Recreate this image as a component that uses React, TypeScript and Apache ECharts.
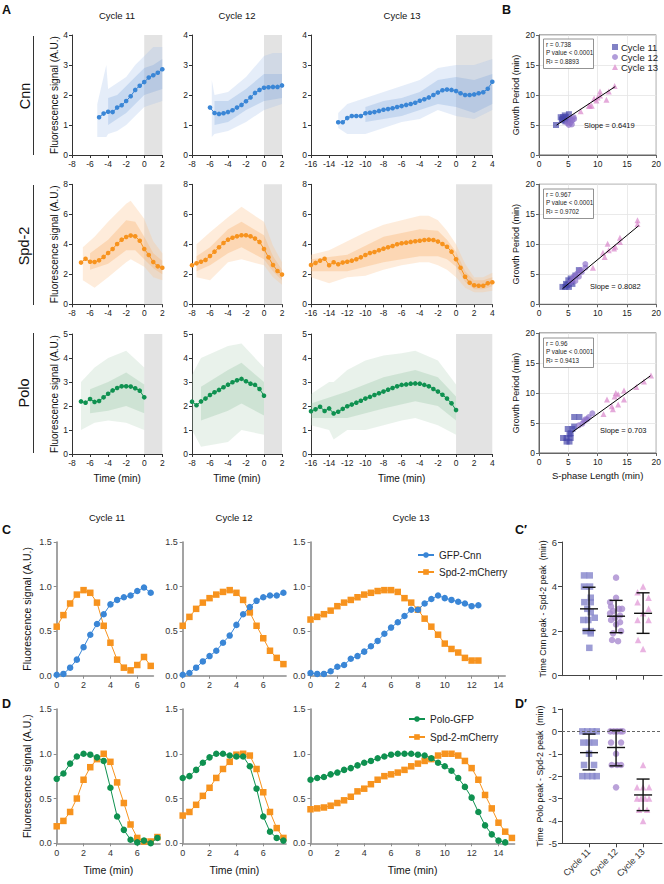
import React, { useEffect, useRef } from "react";
import * as echarts from "echarts";

const FONT = '"Liberation Sans", Arial, Helvetica, sans-serif';
const STEP = 0.5; // sampling interval (min)

// ---------- Panel A: mean traces (values every 0.5 min from start) ----------
const cnn11Start = -5;
const cnn11 = [1.26, 1.38, 1.44, 1.43, 1.58, 1.66, 1.8, 1.96, 2.17, 2.31, 2.43, 2.58, 2.66, 2.74, 2.86];
const cnn12Start = -6;
const cnn12 = [1.58, 1.4, 1.37, 1.39, 1.43, 1.49, 1.58, 1.67, 1.79, 1.92, 2.07, 2.17, 2.24, 2.26, 2.27, 2.27, 2.32];
const cnn13Start = -13;
const cnn13 = [1.09, 1.09, 1.23, 1.3, 1.3, 1.3, 1.39, 1.41, 1.43, 1.47, 1.51, 1.53, 1.56, 1.6, 1.63, 1.67, 1.7, 1.74, 1.81, 1.86, 1.92, 2.0, 2.08, 2.16, 2.18, 2.17, 2.13, 2.06, 2.0, 2.0, 2.02, 2.06, 2.09, 2.21, 2.44];
const spd11Start = -7;
const spd11 = [2.78, 3.04, 2.84, 2.82, 2.93, 3.16, 3.42, 3.69, 4.02, 4.31, 4.49, 4.58, 4.53, 4.24, 3.69, 3.29, 2.82, 2.53, 2.44];
const spd12Start = -8;
const spd12 = [2.6, 2.73, 2.84, 2.96, 3.22, 3.51, 3.8, 4.09, 4.31, 4.44, 4.53, 4.6, 4.6, 4.53, 4.38, 4.16, 3.69, 3.13, 2.62, 2.22, 1.98];
const spd13Start = -16;
const spd13 = [2.62, 2.76, 2.91, 3.04, 2.6, 2.8, 2.67, 2.78, 2.84, 2.91, 3.0, 3.13, 3.29, 3.42, 3.49, 3.6, 3.71, 3.8, 3.89, 4.0, 4.07, 4.11, 4.16, 4.2, 4.24, 4.29, 4.31, 4.29, 4.18, 4.02, 3.84, 3.51, 3.0, 2.44, 1.84, 1.44, 1.27, 1.24, 1.24, 1.4, 1.47];
const polo11Start = -7;
const polo11 = [2.19, 2.14, 2.29, 2.17, 2.21, 2.36, 2.51, 2.65, 2.75, 2.82, 2.82, 2.81, 2.74, 2.64, 2.36];
const polo12Start = -8;
const polo12 = [2.18, 2.03, 2.19, 2.31, 2.46, 2.57, 2.67, 2.78, 2.89, 2.99, 3.07, 3.13, 3.03, 2.93, 2.88, 2.71, 2.43];
const polo13Start = -16;
const polo13 = [1.78, 1.86, 1.97, 1.79, 1.9, 1.69, 1.76, 1.88, 1.99, 2.06, 2.14, 2.22, 2.31, 2.38, 2.46, 2.53, 2.6, 2.68, 2.75, 2.82, 2.88, 2.9, 2.93, 2.94, 2.93, 2.88, 2.82, 2.71, 2.6, 2.47, 2.31, 2.11, 1.83];

// ---------- Panel A: spread of individual traces [time, low, high] ----------
const cnn11Out = [[-5.2, 0.6, 1.7], [-4.2, 0.6, 3.0], [-4, 0.7, 2.2], [-3, 0.8, 2.4], [-2, 1.0, 2.6], [-1, 1.3, 3.0], [0, 1.6, 3.3], [1, 1.7, 3.6], [2, 1.8, 3.6]];
const cnn11In = [[-4, 1.0, 1.9], [-3, 1.2, 2.0], [-2, 1.4, 2.3], [-1, 1.7, 2.6], [0, 2.0, 2.9], [1, 2.1, 3.0], [2, 2.2, 3.2]];
const cnn12Out = [[-5.8, 0.6, 2.5], [-5.5, 0.7, 2.0], [-4, 0.8, 2.1], [-2, 1.1, 2.6], [0, 1.5, 3.3], [1, 1.6, 3.4], [2, 1.7, 3.4]];
const cnn12In = [[-5.5, 1.0, 1.8], [-4, 1.1, 1.8], [-2, 1.5, 2.2], [0, 1.8, 2.7], [2, 1.9, 2.7]];
const cnn13Out = [[-13, 0.9, 1.4], [-12, 0.7, 1.7], [-10, 0.7, 1.9], [-8, 0.9, 2.1], [-6, 1.1, 2.3], [-4, 1.2, 2.5], [-2, 1.5, 2.9], [0, 1.3, 3.0], [2, 1.2, 3.0], [4, 1.5, 3.2]];
const cnn13In = [[-10, 1.1, 1.6], [-8, 1.2, 1.8], [-6, 1.3, 1.9], [-4, 1.5, 2.1], [-2, 1.7, 2.5], [0, 1.6, 2.6], [2, 1.4, 2.5], [4, 1.7, 2.7]];
const spd11Out = [[-6.8, 1.6, 3.8], [-5.5, 1.1, 4.5], [-4, 1.8, 5.5], [-2, 2.8, 6.7], [-1.5, 3.0, 6.9], [0, 2.5, 5.7], [1, 1.8, 4.2], [2, 1.6, 3.4]];
const spd11In = [[-6, 2.3, 3.4], [-4, 2.7, 4.3], [-2, 3.6, 5.6], [-1, 3.6, 5.5], [0, 3.0, 4.5], [1, 2.4, 3.4], [2, 2.0, 2.9]];
const spd12Out = [[-7.5, 1.8, 4.0], [-6, 1.6, 4.8], [-4, 2.8, 5.8], [-2.5, 3.0, 6.5], [0, 2.6, 5.5], [1, 1.8, 3.9], [2, 1.3, 2.8]];
const spd12In = [[-7.5, 2.2, 3.2], [-6, 2.6, 3.8], [-4, 3.4, 5.0], [-2.5, 3.8, 5.5], [0, 3.0, 4.6], [1, 2.2, 3.2], [2, 1.6, 2.3]];
const spd13Out = [[-16, 1.8, 3.3], [-14, 1.4, 3.6], [-12, 1.8, 4.2], [-10, 1.9, 4.8], [-8, 2.3, 5.3], [-6, 2.6, 5.6], [-4, 2.8, 5.9], [-3, 2.8, 5.9], [-2, 2.6, 5.6], [-1, 2.3, 4.9], [0, 1.8, 4.0], [1, 1.1, 2.7], [2, 0.8, 1.8], [3, 0.8, 1.8], [4, 0.9, 2.1]];
const spd13In = [[-16, 2.2, 3.0], [-12, 2.2, 3.3], [-8, 2.8, 4.5], [-4, 3.2, 5.0], [-2, 3.2, 4.9], [-1, 3.0, 4.3], [0, 2.5, 3.5], [1, 1.5, 2.2], [2, 1.0, 1.6], [3, 1.0, 1.6], [4, 1.2, 1.8]];
const polo11Out = [[-7, 1.0, 3.0], [-5.5, 1.3, 3.6], [-4, 1.4, 4.0], [-2, 1.3, 4.3], [0, 1.0, 3.6]];
const polo11In = [[-6, 1.7, 2.7], [-4, 1.8, 3.0], [-2, 2.0, 3.4], [0, 1.7, 2.9]];
const polo12Out = [[-8, 1.0, 3.3], [-7, 0.3, 4.0], [-4, 0.5, 4.5], [-2.5, 1.0, 4.6], [0, 0.8, 3.6]];
const polo12In = [[-7, 1.4, 2.8], [-4, 1.8, 3.5], [-2.5, 2.1, 3.8], [0, 1.6, 3.0]];
const polo13Out = [[-16, 1.2, 2.5], [-14, 1.0, 3.0], [-13.5, 0.6, 3.0], [-12, 1.0, 3.5], [-10, 1.0, 3.9], [-8, 1.2, 4.1], [-6, 1.4, 4.2], [-4.5, 1.5, 4.3], [-2, 1.2, 3.9], [0, 0.8, 2.9]];
const polo13In = [[-16, 1.5, 2.1], [-12, 1.5, 2.6], [-8, 1.9, 3.2], [-4.5, 2.2, 3.5], [-2, 2.0, 3.2], [0, 1.4, 2.4]];

// ---------- Panel B: S-phase length vs growth period ----------
const b1c11 = [[2.9, 5], [3.7, 6.3], [4.1, 6.3], [4.6, 6.3], [5.1, 6.8], [3.9, 5.8], [4.5, 5.6], [5, 5.9], [4, 6], [4.4, 6.6]];
const b1c12 = [[5.1, 5], [5.7, 5.8], [5.4, 5.4], [5.9, 6.3], [4.8, 5.3], [6, 6], [5.3, 6.1], [5.6, 5.1]];
const b1c13 = [[12.9, 11.5], [11.9, 10.6], [10.4, 10.6], [10.4, 9.9], [10, 9.6], [9.4, 9.4], [11.5, 9.2], [8.7, 8.2], [9, 8.2], [7.1, 7.3], [9.8, 9.1], [8.5, 8.2]];
const b2c11 = [[4, 2.9], [4.6, 3.4], [5, 4], [5.1, 2.9], [5.4, 4.3], [5.7, 3.4], [6.8, 5.7], [6.2, 4.8], [4.5, 2.9], [4.8, 3.2], [5.5, 3.8]];
const b2c12 = [[7.9, 6.7], [7.05, 5.7], [6.5, 5.1], [5.9, 4.6], [6.8, 4.6], [6.2, 3.9], [5.7, 4.1], [7.9, 6.1], [7.3, 5.4], [5.4, 3.7]];
const b2c13 = [[16.8, 14], [16.8, 13.4], [13.8, 11.1], [13.8, 10.4], [12.8, 9.3], [11.7, 10.1], [11.9, 9], [10.9, 8.6], [11.2, 7.9], [9.2, 6.1], [13, 9.6]];
const b3c11 = [[6, 6], [6.9, 6], [4.9, 4], [5.7, 4], [4.1, 2.5], [4.7, 2.5], [5.4, 2.5], [4.7, 1.9], [5.4, 3.3], [6, 4.4], [5.2, 1.9], [5.2, 3.1]];
const b3c12 = [[9.1, 6.6], [8.5, 6], [7.9, 5.6], [7.4, 4.9], [6.8, 4.6], [8.2, 5.6], [7.7, 5.3]];
const b3c13 = [[19.1, 12.9], [17.9, 11.9], [16.6, 11], [14.5, 10.4], [14.5, 8.9], [13.5, 9.8], [13.5, 8.1], [12.9, 9.4], [12.4, 7.8], [12.6, 7.3], [11.6, 8.9], [11, 6.5], [13.1, 10]];
// linear fits: [slope, intercept, xFrom, xTo]
const b1Fit = [0.6419, 3.06, 3, 13];
const b2Fit = [0.8082, -0.64, 4, 17];
const b3Fit = [0.703, -0.5, 5.7, 19];
const b1Stats = ["r = 0.738", "P value < 0.0001", "R² = 0.8893"];
const b2Stats = ["r = 0.967", "P value < 0.0001", "R² = 0.9702"];
const b3Stats = ["r = 0.96", "P value < 0.0001", "R² = 0.9413"];
const bSlopes = ["Slope = 0.6419", "Slope = 0.8082", "Slope = 0.703"];
const cycleNames = ["Cycle 11", "Cycle 12", "Cycle 13"];

// ---------- Panel C: Cnn vs Spd-2 (values every 0.5 min from 0) ----------
const cCnn11 = [0.01, 0.02, 0.09, 0.18, 0.32, 0.46, 0.58, 0.69, 0.8, 0.85, 0.88, 0.9, 0.95, 0.99, 0.93];
const cSpd11 = [0.55, 0.68, 0.81, 0.91, 0.96, 0.93, 0.82, 0.56, 0.37, 0.18, 0.09, 0.06, 0.12, 0.21, 0.11];
const cCnn12 = [0.01, 0.03, 0.09, 0.16, 0.22, 0.28, 0.37, 0.45, 0.57, 0.69, 0.77, 0.84, 0.88, 0.9, 0.9, 0.93];
const cSpd12 = [0.56, 0.66, 0.75, 0.82, 0.87, 0.91, 0.94, 0.96, 0.93, 0.85, 0.71, 0.56, 0.42, 0.28, 0.2, 0.13];
const cCnn13 = [0.03, 0.02, 0.02, 0.05, 0.1, 0.12, 0.19, 0.22, 0.27, 0.33, 0.39, 0.47, 0.54, 0.6, 0.67, 0.74, 0.74, 0.81, 0.86, 0.9, 0.87, 0.85, 0.83, 0.81, 0.78, 0.79];
const cSpd13 = [0.63, 0.66, 0.69, 0.73, 0.78, 0.82, 0.85, 0.88, 0.91, 0.93, 0.95, 0.96, 0.96, 0.94, 0.87, 0.82, 0.74, 0.64, 0.55, 0.46, 0.36, 0.3, 0.26, 0.2, 0.17, 0.17];

// ---------- Panel D: Polo vs Spd-2 ----------
const dPolo11 = [0.72, 0.78, 0.89, 0.97, 1.0, 0.99, 0.96, 0.92, 0.62, 0.3, 0.15, 0.04, 0.01, 0.03, 0.0, 0.06];
const dSpd11 = [0.19, 0.25, 0.35, 0.5, 0.71, 0.85, 0.94, 1.0, 0.91, 0.68, 0.45, 0.21, 0.06, 0.02, 0.02, 0.07];
const dPolo12 = [0.73, 0.75, 0.82, 0.9, 0.96, 1.0, 1.0, 0.98, 0.97, 0.97, 0.86, 0.61, 0.3, 0.13, 0.06, 0.03];
const dSpd12 = [0.31, 0.35, 0.43, 0.53, 0.62, 0.73, 0.83, 0.91, 0.99, 1.0, 0.98, 0.83, 0.57, 0.35, 0.17, 0.06];
const dPolo13 = [0.71, 0.73, 0.74, 0.77, 0.79, 0.82, 0.84, 0.87, 0.9, 0.92, 0.95, 0.97, 0.99, 1.0, 1.0, 1.0, 0.99, 0.98, 0.95, 0.9, 0.86, 0.81, 0.73, 0.63, 0.51, 0.35, 0.2, 0.1, 0.03, 0.01];
const dSpd13 = [0.38, 0.39, 0.4, 0.42, 0.45, 0.48, 0.52, 0.58, 0.61, 0.66, 0.71, 0.75, 0.77, 0.79, 0.82, 0.86, 0.89, 0.92, 0.94, 0.98, 1.0, 1.0, 0.98, 0.92, 0.84, 0.71, 0.54, 0.39, 0.23, 0.13, 0.06];

// ---------- Panels C' and D': peak time differences ----------
const cp11 = [4.5, 4.5, 4.0, 4.0, 3.5, 3.3, 3.3, 3.0, 2.85, 2.5, 2.5, 2.6, 2.0, 2.0, 1.9, 1.25];
const cp11J = [-5, 0.7, -5, 1, 1.7, -4.7, 1.7, -1.7, 1.7, -5.7, -0.7, 5.7, -3.3, 1.7, 1.7, 0.3];
const cp12 = [4.4, 3.5, 3.3, 3.1, 3.0, 3.0, 2.9, 2.8, 2.7, 2.6, 2.5, 2.4, 2.3, 2.0, 1.9, 1.6, 1.55];
const cp12J = [0, 0, -6, -5, 3, 6, -3, -6, 4, -1, -5, 4, 0, 5, -3, -4, 2];
const cp13 = [4.0, 3.75, 3.5, 3.3, 3.0, 2.8, 2.5, 2.5, 1.6, 1.2];
const cp13J = [0, -5.5, 5.5, -5.5, 5.5, 0, -5.5, 5.5, -5, 0];
const cpStats = [[1, 3.0, 2.03, 3.97], [2, 2.67, 1.93, 3.38], [3, 2.8, 1.9, 3.72]];
const dp11 = [0, 0, 0, 0, -0.5, -0.5, -0.5, -1, -1.5, -1.5, -2, -2, -2, -2];
const dp11J = [-6.7, -1.7, 3.3, 7.7, -5.7, 0, 5.7, 0, -5, 5, -6.7, -1.7, 3.3, 7.7];
const dp12 = [0, 0, 0, 0, 0, -0.5, -0.5, -1, -1.5, -1.5, -1.5, -2.5];
const dp12J = [-5.7, -2.3, 1, 4.3, 6.7, -5, 5, 0, -4.3, 1, 5, 0];
const dp13 = [-1.5, -2.5, -2.5, -2.5, -3, -3, -3, -3, -3.5, -3.5, -4];
const dp13J = [0, -6, 0, 6, -6, -2, 2, 6, -4, 4, 0];
const dpStats = [[1, -0.95, -1.72, -0.12], [2, -0.72, -1.54, 0.05], [3, -2.84, -3.54, -2.13]];

// ---------- colours ----------
const CNN = "#3a86d6";
const SPD = "#f7931e";
const POLO = "#0f9150";
const CNN_OUT = "rgba(160,190,232,0.28)";
const CNN_IN = "rgba(120,162,220,0.28)";
const SPD_OUT = "rgba(253,200,150,0.34)";
const SPD_IN = "rgba(250,175,105,0.34)";
const POLO_OUT = "rgba(170,205,178,0.26)";
const POLO_IN = "rgba(130,185,148,0.26)";
const B_SQ = "rgba(70,70,170,0.85)";
const B_CI = "rgba(140,110,200,0.85)";
const B_TR = "rgba(215,130,200,0.85)";
const P_SQ = "#8585cb";
const P_CI = "#a98bcf";
const P_TR = "#e4a0da";

// grid layout [left, top, width, height]
const GRIDS: number[][] = [
  [72, 35, 90.3, 120], [192, 35, 90, 120], [311, 35, 181.3, 120], [539, 35, 121, 120],
  [72, 184.3, 90.3, 120], [192, 184.3, 90, 120], [311, 184.3, 181.3, 120], [539, 184.3, 121, 120],
  [72, 334, 90.3, 120], [192, 334, 90, 120], [311, 334, 181.3, 120], [539, 333, 121, 120],
  [56.7, 542, 96.7, 133.7], [182.7, 542, 103.4, 133.7], [310.5, 542, 194.7, 133.7], [562, 542, 100, 133.7],
  [56.7, 709, 103.4, 134.3], [182.7, 709, 103.4, 134.3], [310.5, 709, 204.1, 134.3], [562, 709, 100, 134.3],
];

const nameStyle = (size: number) => ({ fontSize: size, color: "#111", fontFamily: FONT });

function buildOption() {
  const xAxis: any[] = [];
  const yAxis: any[] = [];
  const series: any[] = [];

  const aLine = { show: true, onZero: false, lineStyle: { color: "#333", width: 1 } };
  const aTick = { show: true, length: 3, lineStyle: { color: "#333", width: 1 } };
  const aLabel = { fontSize: 8.5, color: "#222", margin: 4, fontFamily: FONT };

  // Panel A axes
  const aRows = [
    { ymax: 4, yint: 1 },
    { ymax: 8, yint: 2 },
    { ymax: 5, yint: 1 },
  ];
  aRows.forEach((row, r) => {
    for (let c = 0; c < 3; c++) {
      const gi = r * 4 + c;
      xAxis[gi] = {
        type: "value", gridIndex: gi, min: c === 2 ? -16 : -8, max: c === 2 ? 4 : 2, interval: 2,
        axisLine: aLine, axisTick: aTick, axisLabel: aLabel, splitLine: { show: false },
        name: r === 2 ? "Time (min)" : "", nameLocation: "middle", nameGap: 19, nameTextStyle: nameStyle(10),
      };
      yAxis[gi] = {
        type: "value", gridIndex: gi, min: 0, max: row.ymax, interval: row.yint,
        axisLine: aLine, axisTick: aTick, axisLabel: aLabel, splitLine: { show: false },
        name: c === 0 ? "Fluorescence signal (A.U.)" : "", nameLocation: "middle", nameGap: 13,
        nameTextStyle: nameStyle(10),
      };
    }
    // Panel B axes
    const gi = r * 4 + 3;
    const bLine = { show: true, onZero: false, lineStyle: { color: "#666", width: 1 } };
    const bTick = { show: true, length: 3, lineStyle: { color: "#666" } };
    const bSplit = { show: true, lineStyle: { color: "#e4e4e4", width: 0.8 } };
    xAxis[gi] = {
      type: "value", gridIndex: gi, min: 0, max: 20, interval: 5, axisLine: bLine, axisTick: bTick,
      axisLabel: { ...aLabel, fontSize: 8.5 }, splitLine: bSplit,
      name: r === 2 ? "S-phase Length (min)" : "", nameLocation: "middle", nameGap: 17, nameTextStyle: nameStyle(9.5),
    };
    yAxis[gi] = {
      type: "value", gridIndex: gi, min: 0, max: 20, interval: 5, axisLine: bLine, axisTick: bTick,
      axisLabel: { ...aLabel, fontSize: 8.5 }, splitLine: bSplit,
      name: "Growth Period (min)", nameLocation: "middle", nameGap: 19, nameTextStyle: nameStyle(9),
    };
  });

  // Panels C / D axes
  const cdLine = { show: true, onZero: false, lineStyle: { color: "#8c8c8c", width: 1.6 } };
  const cdTick = { show: true, length: 3, lineStyle: { color: "#8c8c8c", width: 1 } };
  const cdLabel = { fontSize: 9, color: "#333", margin: 5, fontFamily: FONT };
  const cdMax = [[7.2, 7.7, 14.5], [7.7, 7.7, 15.2]];
  const cdTicks = [[0, 2, 4, 6], [0, 2, 4, 6], [0, 2, 4, 6, 8, 10, 12, 14]];
  for (let r = 0; r < 2; r++) {
    for (let c = 0; c < 3; c++) {
      const gi = 12 + r * 4 + c;
      xAxis[gi] = {
        type: "value", gridIndex: gi, min: 0, max: cdMax[r][c],
        axisLine: cdLine, axisTick: { ...cdTick, customValues: cdTicks[c] },
        axisLabel: { ...cdLabel, customValues: cdTicks[c] }, splitLine: { show: false },
        name: r === 1 ? "Time (min)" : "", nameLocation: "middle", nameGap: 21, nameTextStyle: nameStyle(10.5),
      };
      yAxis[gi] = {
        type: "value", gridIndex: gi, min: 0, max: 1.5, interval: 0.5,
        axisLine: cdLine, axisTick: cdTick, axisLabel: { ...cdLabel, formatter: (v: number) => v.toFixed(1) },
        splitLine: { show: false },
        name: c === 0 ? "Fluorescence signal (A.U.)" : "", nameLocation: "middle", nameGap: 24,
        nameTextStyle: nameStyle(10.5),
      };
    }
    // C' / D'
    const gi = 15 + r * 4;
    xAxis[gi] = {
      type: "value", gridIndex: gi, min: 0, max: 3.7,
      axisLine: { ...cdLine, lineStyle: { color: "#444", width: 1 } },
      axisTick: { show: true, length: 4, customValues: [1, 2, 3], lineStyle: { color: "#444" } },
      axisLabel: r === 0 ? { show: false } : {
        ...cdLabel, rotate: 45, margin: 7, customValues: [1, 2, 3],
        formatter: (v: number) => cycleNames[Math.round(v) - 1],
      },
      splitLine: { show: false },
    };
    yAxis[gi] = {
      type: "value", gridIndex: gi, min: r === 0 ? 0 : -5, max: r === 0 ? 6 : 1, interval: r === 0 ? 2 : 1,
      axisLine: { ...cdLine, lineStyle: { color: "#444", width: 1 } },
      axisTick: { show: true, length: 4, lineStyle: { color: "#444" } },
      axisLabel: { ...cdLabel, fontSize: 9.5 }, splitLine: { show: false },
      name: r === 0 ? "Time Cnn peak - Spd-2 peak  (min)" : "Time  Polo peak - Spd-2 peak  (min)",
      nameLocation: "middle", nameGap: 14, nameTextStyle: nameStyle(8.8),
    };
  }

  // ----- Panel A series -----
  const shade = (gi: number, from: number, to: number, ymax: number) => {
    series.push({
      type: "custom", xAxisIndex: gi, yAxisIndex: gi, silent: true, z: 1,
      encode: { x: [0, 1], y: [2, 3] }, data: [[from, to, 0, ymax]],
      renderItem: (params: any, api: any) => {
        const p0 = api.coord([api.value(0), api.value(3)]);
        const p1 = api.coord([api.value(1), api.value(2)]);
        return { type: "rect", shape: { x: p0[0], y: p0[1], width: p1[0] - p0[0], height: p1[1] - p0[1] }, style: { fill: "#e3e3e3" } };
      },
    });
  };
  const band = (gi: number, rows: number[][], color: string) => {
    series.push({
      type: "custom", xAxisIndex: gi, yAxisIndex: gi, silent: true, z: 2,
      encode: { x: 0, y: [1, 2] }, data: rows,
      renderItem: (params: any, api: any) => {
        if (params.dataIndex !== 0) return null;
        const top = rows.map((r) => api.coord([r[0], r[2]]));
        const bottom = rows.slice().reverse().map((r) => api.coord([r[0], r[1]]));
        return { type: "polygon", shape: { points: top.concat(bottom) }, style: { fill: color } };
      },
    });
  };
  const trace = (gi: number, start: number, vals: number[], color: string) => {
    series.push({
      type: "line", xAxisIndex: gi, yAxisIndex: gi, symbol: "circle", symbolSize: 4.6, z: 4,
      lineStyle: { color, width: 1 }, itemStyle: { color },
      data: vals.map((v, i) => [start + i * STEP, v]),
    });
  };
  const aPanels: any[] = [
    [0, cnn11Start, cnn11, cnn11Out, cnn11In, CNN, CNN_OUT, CNN_IN, 2, 4],
    [1, cnn12Start, cnn12, cnn12Out, cnn12In, CNN, CNN_OUT, CNN_IN, 2, 4],
    [2, cnn13Start, cnn13, cnn13Out, cnn13In, CNN, CNN_OUT, CNN_IN, 4, 4],
    [4, spd11Start, spd11, spd11Out, spd11In, SPD, SPD_OUT, SPD_IN, 2, 8],
    [5, spd12Start, spd12, spd12Out, spd12In, SPD, SPD_OUT, SPD_IN, 2, 8],
    [6, spd13Start, spd13, spd13Out, spd13In, SPD, SPD_OUT, SPD_IN, 4, 8],
    [8, polo11Start, polo11, polo11Out, polo11In, POLO, POLO_OUT, POLO_IN, 2, 5],
    [9, polo12Start, polo12, polo12Out, polo12In, POLO, POLO_OUT, POLO_IN, 2, 5],
    [10, polo13Start, polo13, polo13Out, polo13In, POLO, POLO_OUT, POLO_IN, 4, 5],
  ];
  aPanels.forEach(([gi, st, vals, out, inn, col, cOut, cIn, sh, ym]) => {
    shade(gi, 0, sh, ym);
    band(gi, out, cOut);
    band(gi, inn, cIn);
    trace(gi, st, vals, col);
  });

  // ----- Panel B series -----
  const bPanels: any[] = [
    [3, b1c11, b1c12, b1c13, b1Fit],
    [7, b2c11, b2c12, b2c13, b2Fit],
    [11, b3c11, b3c12, b3c13, b3Fit],
  ];
  bPanels.forEach(([gi, s11, s12, s13, fit]) => {
    series.push({ type: "scatter", name: "Cycle 11", xAxisIndex: gi, yAxisIndex: gi, symbol: "rect", symbolSize: 6, itemStyle: { color: B_SQ }, data: s11, z: 3 });
    series.push({ type: "scatter", name: "Cycle 12", xAxisIndex: gi, yAxisIndex: gi, symbol: "circle", symbolSize: 6, itemStyle: { color: B_CI }, data: s12, z: 3 });
    series.push({ type: "scatter", name: "Cycle 13", xAxisIndex: gi, yAxisIndex: gi, symbol: "triangle", symbolSize: 6, itemStyle: { color: B_TR }, data: s13, z: 3 });
    const [s, b, x0, x1] = fit;
    series.push({
      type: "line", xAxisIndex: gi, yAxisIndex: gi, symbol: "none", silent: true, z: 5,
      lineStyle: { color: "#000", width: 1 }, data: [[x0, s * x0 + b], [x1, s * x1 + b]],
    });
  });

  // ----- Panels C / D series -----
  const pair = (gi: number, aName: string, a: number[], aCol: string, bName: string, b: number[], bCol: string) => {
    series.push({
      type: "line", name: bName, xAxisIndex: gi, yAxisIndex: gi, symbol: "rect", symbolSize: 6.5, z: 3,
      lineStyle: { color: bCol, width: 1 }, itemStyle: { color: bCol }, data: b.map((v, i) => [i * STEP, v]),
    });
    series.push({
      type: "line", name: aName, xAxisIndex: gi, yAxisIndex: gi, symbol: "circle", symbolSize: 6.5, z: 4,
      lineStyle: { color: aCol, width: 1 }, itemStyle: { color: aCol }, data: a.map((v, i) => [i * STEP, v]),
    });
  };
  pair(12, "GFP-Cnn", cCnn11, CNN, "Spd-2-mCherry", cSpd11, SPD);
  pair(13, "GFP-Cnn", cCnn12, CNN, "Spd-2-mCherry", cSpd12, SPD);
  pair(14, "GFP-Cnn", cCnn13, CNN, "Spd-2-mCherry", cSpd13, SPD);
  pair(16, "Polo-GFP", dPolo11, POLO, "Spd-2-mCherry", dSpd11, SPD);
  pair(17, "Polo-GFP", dPolo12, POLO, "Spd-2-mCherry", dSpd12, SPD);
  pair(18, "Polo-GFP", dPolo13, POLO, "Spd-2-mCherry", dSpd13, SPD);

  // ----- C' / D' -----
  const PX_PER_CAT = 27;
  const dots = (gi: number, cat: number, vals: number[], jit: number[], symbol: string, color: string, markZero: boolean) => {
    const s: any = {
      type: "scatter", xAxisIndex: gi, yAxisIndex: gi, symbol, symbolSize: 6.5, z: 3,
      itemStyle: { color }, data: vals.map((v, i) => [cat + jit[i] / PX_PER_CAT, v]),
    };
    if (markZero) {
      s.markLine = {
        silent: true, symbol: "none", label: { show: false },
        lineStyle: { type: [3, 2], color: "#666", width: 1 }, data: [{ yAxis: 0 }],
      };
    }
    series.push(s);
  };
  dots(15, 1, cp11, cp11J, "rect", P_SQ, false);
  dots(15, 2, cp12, cp12J, "circle", P_CI, false);
  dots(15, 3, cp13, cp13J, "triangle", P_TR, false);
  dots(19, 1, dp11, dp11J, "rect", P_SQ, true);
  dots(19, 2, dp12, dp12J, "circle", P_CI, false);
  dots(19, 3, dp13, dp13J, "triangle", P_TR, false);
  const errBars = (gi: number, rows: number[][]) => {
    series.push({
      type: "custom", xAxisIndex: gi, yAxisIndex: gi, z: 6, silent: true,
      encode: { x: 0, y: [1, 2, 3] }, data: rows,
      renderItem: (params: any, api: any) => {
        const x = api.value(0);
        const pm = api.coord([x, api.value(1)]);
        const pl = api.coord([x, api.value(2)]);
        const ph = api.coord([x, api.value(3)]);
        const st = { stroke: "#111", lineWidth: 1.4 };
        return {
          type: "group",
          children: [
            { type: "line", shape: { x1: pm[0], y1: pl[1], x2: pm[0], y2: ph[1] }, style: st },
            { type: "line", shape: { x1: pm[0] - 9, y1: pm[1], x2: pm[0] + 9, y2: pm[1] }, style: st },
            { type: "line", shape: { x1: pm[0] - 6.5, y1: pl[1], x2: pm[0] + 6.5, y2: pl[1] }, style: st },
            { type: "line", shape: { x1: pm[0] - 6.5, y1: ph[1], x2: pm[0] + 6.5, y2: ph[1] }, style: st },
          ],
        };
      },
    });
  };
  errBars(15, cpStats);
  errBars(19, dpStats);

  const grid = GRIDS.map((g, i) => ({
    left: g[0], top: g[1], width: g[2], height: g[3], containLabel: false,
    show: i === 3 || i === 7 || i === 11, borderColor: "#666", borderWidth: 1, backgroundColor: "transparent",
  }));

  // ----- graphic annotations -----
  const txt = (x: number, y: number, text: string, size: number, opts: any = {}) => ({
    type: "text", x, y, rotation: opts.rotation || 0, silent: true, z: 100,
    style: {
      text, fill: opts.fill || "#111", fontSize: size, fontFamily: FONT, fontWeight: opts.weight || "normal",
      align: opts.align || "center", textAlign: opts.align || "center",
      verticalAlign: opts.valign || "middle", textVerticalAlign: opts.valign || "middle",
    },
  });
  const vline = (x: number, y1: number, y2: number) => ({
    type: "line", silent: true, shape: { x1: x, y1, x2: x, y2 }, style: { stroke: "#333", lineWidth: 1 },
  });
  const statBox = (top: number, lines: string[]) => [
    { type: "rect", silent: true, z: 50, shape: { x: 543.5, y: top, width: 50, height: 29.5 }, style: { fill: "#fff", stroke: "#777", lineWidth: 0.8 } },
    ...lines.map((l, i) => txt(546, top + 5 + i * 8.6, l, 6.3, { align: "left", fill: "#222" })),
  ];
  const graphic: any[] = [
    txt(2, 3, "A", 12.5, { weight: "bold", align: "left", valign: "top" }),
    txt(502, 3, "B", 12.5, { weight: "bold", align: "left", valign: "top" }),
    txt(2, 523, "C", 12.5, { weight: "bold", align: "left", valign: "top" }),
    txt(2, 697, "D", 12.5, { weight: "bold", align: "left", valign: "top" }),
    txt(515, 523, "C′", 12.5, { weight: "bold", align: "left", valign: "top" }),
    txt(515, 697, "D′", 12.5, { weight: "bold", align: "left", valign: "top" }),
    txt(117, 15, "Cycle 11", 9.5),
    txt(237, 15, "Cycle 12", 9.5),
    txt(402, 15, "Cycle 13", 9.5),
    txt(107, 517, "Cycle 11", 9.5),
    txt(234, 517, "Cycle 12", 9.5),
    txt(411, 517, "Cycle 13", 9.5),
    txt(25, 96, "Cnn", 14.5, { rotation: Math.PI / 2 }),
    txt(24, 246, "Spd-2", 14.5, { rotation: Math.PI / 2 }),
    txt(24, 393, "Polo", 14.5, { rotation: Math.PI / 2 }),
    vline(33.5, 36, 155),
    vline(33.5, 185, 305),
    vline(33.5, 333, 453),
    ...statBox(39, b1Stats),
    ...statBox(189, b2Stats),
    ...statBox(338, b3Stats),
    txt(584, 125.7, bSlopes[0], 7.5, { align: "left" }),
    txt(590, 286, bSlopes[1], 7.5, { align: "left" }),
    txt(600, 430, bSlopes[2], 7.5, { align: "left" }),
  ];

  const legend = [
    {
      data: cycleNames, left: 607, top: 37, orient: "vertical", itemWidth: 6, itemHeight: 6, itemGap: 0,
      selectedMode: false, textStyle: { fontSize: 9.5, fontFamily: FONT, color: "#222", lineHeight: 10, padding: [0, 0, 0, -2] },
    },
    {
      data: ["GFP-Cnn", "Spd-2-mCherry"], left: 412, top: 545, orient: "vertical", itemWidth: 16, itemHeight: 7,
      itemGap: 7, selectedMode: false, textStyle: { fontSize: 10, fontFamily: FONT, color: "#222" },
    },
    {
      data: ["Polo-GFP", "Spd-2-mCherry"], left: 403, top: 709, orient: "vertical", itemWidth: 16, itemHeight: 7,
      itemGap: 8, selectedMode: false, textStyle: { fontSize: 10, fontFamily: FONT, color: "#222" },
    },
  ];

  return {
    animation: false,
    backgroundColor: "#fff",
    textStyle: { fontFamily: FONT },
    grid, xAxis, yAxis, series, graphic, legend,
  };
}

export default function App() {
  const ref = useRef<HTMLDivElement>(null);
  useEffect(() => {
    if (!ref.current) return;
    const chart = echarts.init(ref.current, undefined, { renderer: "svg" });
    chart.setOption(buildOption() as any);
    return () => chart.dispose();
  }, []);
  return <div ref={ref} style={{ position: "absolute", left: 0, top: 0, width: 664, height: 884 }} />;
}
